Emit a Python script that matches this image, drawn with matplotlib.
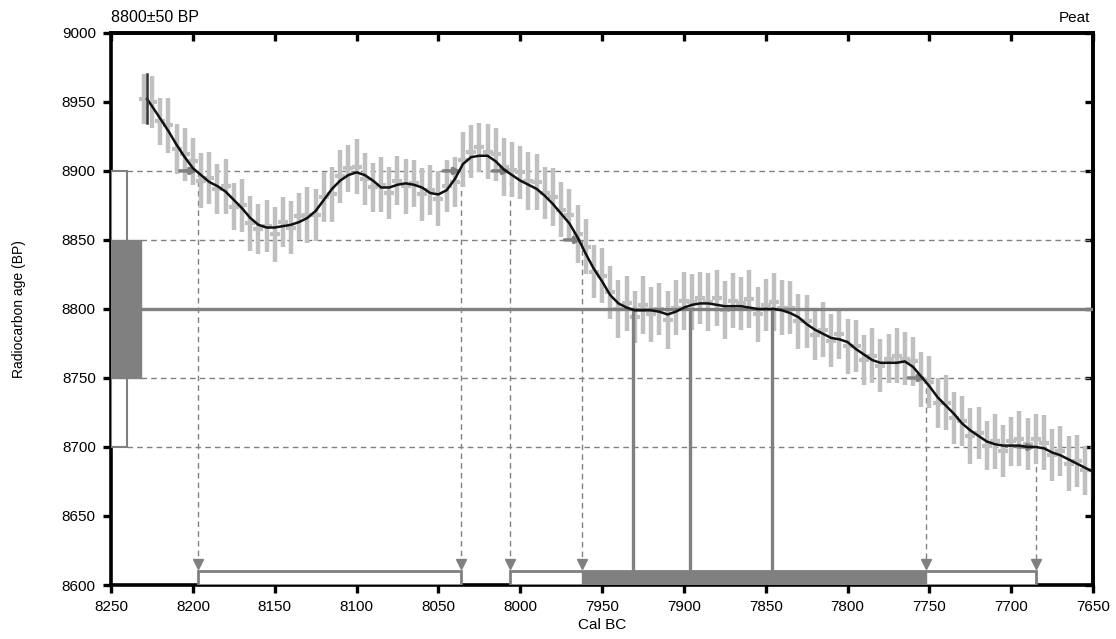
import numpy as np
import matplotlib
matplotlib.use("Agg")
import matplotlib.pyplot as plt

plt.rcParams['font.family'] = ['Liberation Sans', 'DejaVu Sans']

# calibration curve (cal BC, radiocarbon BP)
curve_years = [8228] + list(range(8225, 7645, -5))
curve_bp = [8952,
            8947, 8938, 8929, 8919, 8910, 8902, 8897, 8892, 8889, 8885,
            8879, 8873, 8866, 8861, 8859, 8859, 8860, 8861, 8863, 8866,
            8871, 8879, 8887, 8893, 8897, 8899, 8897, 8893, 8888, 8888,
            8890, 8891, 8890, 8888, 8884, 8883, 8886, 8894, 8905, 8910,
            8911, 8911, 8907, 8901, 8897, 8893, 8890, 8887, 8882, 8876,
            8869, 8862, 8852, 8840, 8829, 8820, 8810, 8804, 8801, 8799,
            8799, 8799, 8798, 8796, 8798, 8801, 8803, 8804, 8804, 8803,
            8802, 8802, 8802, 8801, 8800, 8800, 8800, 8799, 8797, 8794,
            8789, 8785, 8782, 8779, 8778, 8776, 8771, 8767, 8763, 8761,
            8761, 8761, 8762, 8758, 8751, 8744, 8736, 8730, 8724, 8717,
            8712, 8708, 8704, 8702, 8701, 8701, 8701, 8700, 8700, 8699,
            8696, 8694, 8691, 8688, 8685, 8682]

# raw calibration data with error bars
bar_years = list(range(8230, 7645, -5))
bar_center = [8952,
              8950, 8936, 8933, 8916, 8912, 8907, 8893, 8895, 8887, 8889,
              8874, 8875, 8862, 8858, 8860, 8854, 8863, 8859, 8867, 8868,
              8868, 8881, 8883, 8896, 8902, 8903, 8894, 8888, 8890, 8884,
              8893, 8889, 8891, 8883, 8886, 8880, 8889, 8892, 8908, 8914,
              8917, 8914, 8912, 8903, 8901, 8899, 8893, 8892, 8884, 8881,
              8872, 8868, 8854, 8845, 8827, 8824, 8812, 8800, 8804, 8794,
              8803, 8796, 8800, 8792, 8801, 8806, 8805, 8808, 8805, 8808,
              8799, 8806, 8804, 8807, 8796, 8803, 8805, 8801, 8801, 8791,
              8791, 8781, 8785, 8777, 8782, 8773, 8773, 8763, 8766, 8759,
              8764, 8766, 8764, 8762, 8749, 8747, 8732, 8732, 8721, 8719,
              8708, 8710, 8701, 8704, 8697, 8704, 8706, 8702, 8706, 8703,
              8694, 8697, 8688, 8690, 8683, 8683]
bar_err = [18,
           19, 17, 20, 18, 19, 17, 20, 19, 18, 20,
           17, 19, 20, 18, 19, 20, 18, 19, 17, 20,
           19, 18, 20, 19, 17, 20, 19, 18, 20, 19,
           18, 20, 17, 19, 18, 20, 19, 18, 20, 19,
           18, 20, 19, 21, 20, 19, 21, 20, 19, 21,
           20, 19, 21, 20, 19, 20, 19, 21, 20, 19,
           21, 20, 19, 21, 20, 21, 20, 19, 21, 20,
           21, 20, 19, 21, 20, 19, 21, 20, 19, 20,
           19, 18, 20, 19, 18, 20, 19, 18, 20, 19,
           18, 20, 19, 18, 20, 19, 18, 20, 19, 18,
           20, 19, 18, 20, 19, 18, 20, 19, 18, 20,
           19, 18, 20, 19, 18, 20]

# sample date
sample_bp = 8800
sample_sd = 50

# range intersections
crossings_2s = [(8197, 8900), (8036, 8900), (8006, 8900), (7685, 8700)]
crossings_1s = [(7962, 8850), (7752, 8750)]
ranges_2s = [(8197, 8036), (8006, 7685)]
ranges_1s = [(7962, 7752)]
intercepts = [7931, 7896, 7846]

DARK = '#808080'
LIGHT = '#c0c0c0'

fig = plt.figure(figsize=(11.16, 6.39), dpi=100)
ax = fig.add_axes([0.0995, 0.0845, 0.880, 0.864])
ax.set_xlim(8250, 7650)
ax.set_ylim(8600, 9000)

# dashed sigma lines
for lvl, x0 in [(sample_bp + 2 * sample_sd, 8240), (sample_bp + sample_sd, 8232),
                (sample_bp - sample_sd, 8232), (sample_bp - 2 * sample_sd, 8240)]:
    ax.plot([x0, 7650], [lvl, lvl], color=DARK, lw=1, ls=(0, (4, 3)), zorder=1)

# data bars
ax.vlines(bar_years, np.array(bar_center) - np.array(bar_err),
          np.array(bar_center) + np.array(bar_err), color=LIGHT, lw=3.2, zorder=2)
ax.plot(bar_years, bar_center, ls='none', marker='_', ms=7, mew=3, color=LIGHT, zorder=2)

# sample line
ax.plot([8232, 7650], [sample_bp, sample_bp], color=DARK, lw=2.4, zorder=3)

# left boxes
ax.add_patch(plt.Rectangle((8250, sample_bp - 2 * sample_sd), -10, 4 * sample_sd,
                           facecolor='white', edgecolor=DARK, lw=1.5, zorder=4))
ax.add_patch(plt.Rectangle((8250, sample_bp - sample_sd), -18, 2 * sample_sd,
                           facecolor=DARK, edgecolor=DARK, lw=1, zorder=5))

# vertical dashed lines and arrows
for x, y in crossings_2s + crossings_1s:
    ax.plot([x, x], [y, 8618], color=DARK, lw=1, ls=(0, (4, 3)), zorder=1)
    ax.plot(x, 8615, marker='v', ms=7, color=DARK, zorder=6)
    ax.annotate('', xy=(x, y), xytext=(x + 11, y),
                arrowprops=dict(arrowstyle='-|>', color=DARK, lw=2.5,
                                mutation_scale=9, shrinkA=0, shrinkB=0), zorder=6)

# intercept lines
for x in intercepts:
    ax.plot([x, x], [sample_bp, 8610], color=DARK, lw=2.4, zorder=3)

# range bars at bottom
for a, b in ranges_2s:
    ax.add_patch(plt.Rectangle((a, 8600), b - a, 10, facecolor='white',
                               edgecolor=DARK, lw=2, zorder=5))
for a, b in ranges_1s:
    ax.add_patch(plt.Rectangle((a, 8600), b - a, 10, facecolor=DARK,
                               edgecolor=DARK, lw=1, zorder=6))

# curve
ax.plot(curve_years, curve_bp, color='#111111', lw=1.8, zorder=7)
ax.plot([8228, 8228], [8935, 8970], color='#333333', lw=1.8, zorder=7)

# axes styling
for s in ax.spines.values():
    s.set_linewidth(2.6)
ax.set_xticks(range(8250, 7649, -50))
ax.set_yticks(range(8600, 9001, 50))
ax.tick_params(direction='out', length=6, width=2.4, labelsize=11, pad=5)

top = ax.secondary_xaxis('top')
top.set_xticks(range(8250, 7649, -50))
top.tick_params(direction='in', length=6, width=2.4, labeltop=False)
right = ax.secondary_yaxis('right')
right.set_yticks(range(8600, 9001, 50))
right.tick_params(direction='in', length=6, width=2.4, labelright=False)
for s in list(top.spines.values()) + list(right.spines.values()):
    s.set_linewidth(2.6)

ax.set_xlabel('Cal BC', fontsize=11, labelpad=3)
ax.set_ylabel('Radiocarbon age (BP)', fontsize=10, labelpad=26)

fig.text(0.0995, 0.972, '8800±50 BP', fontsize=11.5, ha='left', va='center')
fig.text(0.977, 0.972, 'Peat', fontsize=11, ha='right', va='center')

fig.savefig('out.png', dpi=100)
